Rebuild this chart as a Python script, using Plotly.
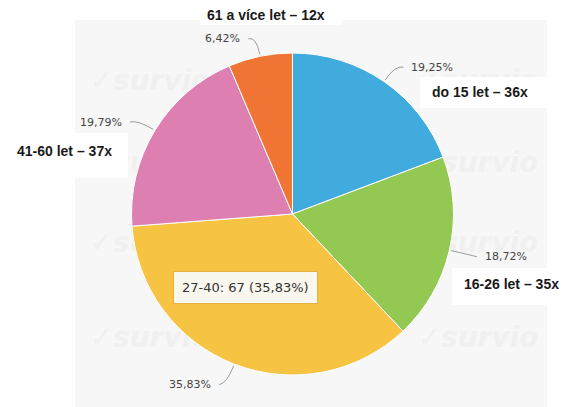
import math
import plotly.graph_objects as go

# ---- data ----
age_keys = ["do 15", "16-26", "27-40", "41-60", "61 a více"]
counts = [36, 35, 67, 37, 12]
colors = ["#42abde", "#93c853", "#f7c342", "#de7fb1", "#f07534"]

W, H = 563, 407
cx, cy, R = 292.5, 214.0, 161.0
total = sum(counts)


def pct(v):
    return f"{v / total * 100:.2f}".replace(".", ",") + "%"


def px(x):
    return x / W


def py(y):
    return 1 - y / H


fig = go.Figure()
fig.add_trace(go.Pie(
    labels=age_keys, values=counts, sort=False, direction="clockwise", rotation=0,
    marker=dict(colors=colors, line=dict(color="white", width=1)),
    textinfo="none", hoverinfo="none",
    domain=dict(x=[px(cx - R), px(cx + R)], y=[py(cy + R), py(cy - R)]),
))

shapes = []
annotations = []

# panel background
shapes.append(dict(type="rect", xref="paper", yref="paper", x0=px(75), x1=px(547), y0=py(410), y1=py(20),
                   fillcolor="#f7f7f7", line=dict(width=0), layer="below"))

# faint watermarks
for wy in [78, 160, 240, 335]:
    for wx in [150, 320, 478]:
        shapes.append(dict(type="rect", xref="paper", yref="paper", x0=px(wx - 60), x1=px(wx + 60),
                           y0=py(wy + 15), y1=py(wy - 15), line=dict(width=0), fillcolor="rgba(0,0,0,0)",
                           layer="below",
                           label=dict(text="✓survio", font=dict(family="DejaVu Sans", size=28,
                                                                color="#f0f0f0", weight="bold", style="italic"))))

# white label boxes
for (x0, y0, x1, y1) in [(200, -2, 342, 25), (420, 77, 565, 108), (5, 133, 128, 178), (452, 268, 565, 305)]:
    shapes.append(dict(type="rect", xref="paper", yref="paper", x0=px(x0), x1=px(x1), y0=py(y1), y1=py(y0),
                       fillcolor="white", line=dict(width=0), layer="below"))

# percentage labels with connectors
cum = 0
for v in counts:
    mid = (cum + v / 2) / total * 2 * math.pi
    cum += v
    dx, dy = math.sin(mid), -math.cos(mid)
    sx, sy = cx + (R + 2) * dx, cy + (R + 2) * dy
    kx, ky = cx + (R + 20) * dx, cy + (R + 20) * dy
    side = 1 if dx >= 0 else -1
    ex, ey = kx + 8 * side, ky + 2
    shapes.append(dict(type="path", xref="paper", yref="paper",
                       path=f"M {px(sx)},{py(sy)} Q {px(kx)},{py(ky)} {px(ex)},{py(ey)}",
                       line=dict(color="#9a9a9a", width=1)))
    annotations.append(dict(text=pct(v), x=px(kx + 14 * side), y=py(ky + 2), xref="paper", yref="paper",
                            xanchor="left" if side > 0 else "right", yanchor="middle", showarrow=False,
                            font=dict(family="DejaVu Sans", size=11, color="#444444")))

# bold category labels
big_font = dict(family="Liberation Sans", size=14, color="#1a1a1a", weight="bold")
label_pos = {0: (430, 92, "left"), 1: (462, 284, "left"), 3: (15, 151, "left"), 4: (266, 15, "center")}
for i, (x, y, anc) in label_pos.items():
    annotations.append(dict(text=f"<b>{age_keys[i]} let – {counts[i]}x</b>", x=px(x), y=py(y),
                            xref="paper", yref="paper", xanchor=anc, yanchor="middle", showarrow=False,
                            font=big_font))

# tooltip
annotations.append(dict(text=f"{age_keys[2]}: {counts[2]} ({pct(counts[2])})", x=px(245), y=py(287),
                        xref="paper", yref="paper", xanchor="center", yanchor="middle", showarrow=False,
                        font=dict(family="DejaVu Sans", size=13, color="#333333"),
                        bgcolor="#f9f7ee", bordercolor="#e8b040", borderwidth=1, borderpad=8))

fig.update_layout(width=W, height=H, margin=dict(l=0, r=0, t=0, b=0), paper_bgcolor="white",
                  plot_bgcolor="white", showlegend=False, shapes=shapes, annotations=annotations,
                  hovermode=False)
fig.write_html("out.html", config={"displayModeBar": False},
               post_script="document.body.style.margin='0';document.body.style.overflow='hidden';")
